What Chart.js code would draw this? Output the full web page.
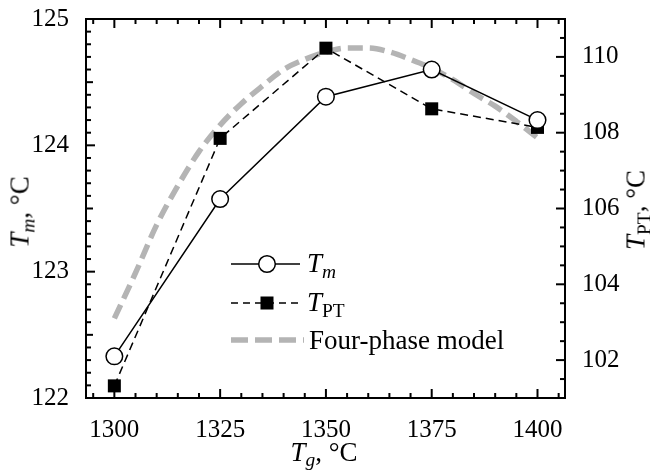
<!DOCTYPE html>
<html>
<head>
<meta charset="utf-8">
<script src="https://cdn.jsdelivr.net/npm/chart.js@4/dist/chart.umd.min.js"></script>
<style>
  body { margin: 0; background: #fff; }
  #wrap { position: relative; width: 650px; height: 471px; font-family: "Liberation Serif", "Times New Roman", serif; color: #000; }
  #c { position: absolute; left: 0; top: 0; }
  .lbl { position: absolute; white-space: nowrap; font-size: 27px; line-height: 1; }
  .lbl sub { font-size: 0.72em; vertical-align: -0.3em; line-height: 0; }
  .rot { transform: translate(-50%, -50%) rotate(-90deg); }
  .ctr { transform: translate(-50%, -50%); }
</style>
</head>
<body>
<div id="wrap">
  <canvas id="c" width="650" height="471"></canvas>
  <div class="lbl rot" style="left:20px; top:212px;"><i>T</i><sub><i>m</i></sub>, °C</div>
  <div class="lbl rot" style="left:636px; top:210px;"><i>T</i><sub>PT</sub>, °C</div>
  <div class="lbl ctr" style="left:324px; top:452px;"><i>T</i><sub><i>g</i></sub>, °C</div>
  <div class="lbl" style="left:307px; top:250px;"><i>T</i><sub><i>m</i></sub></div>
  <div class="lbl" style="left:307px; top:289px;"><i>T</i><sub>PT</sub></div>
  <div class="lbl" style="left:309px; top:327px;">Four-phase model</div>
</div>
<script>
// measured points
const tg = [1300, 1325, 1350, 1375, 1400];
const tm = [122.33, 123.575, 124.385, 124.6, 124.2];
const tpt = [101.32, 107.85, 110.23, 108.63, 108.14];

// four-phase model curve (left axis)
const modelTg = [1300, 1305, 1310, 1315, 1320, 1325, 1330, 1335, 1340, 1345, 1350,
                 1355, 1360, 1365, 1370, 1375, 1380, 1385, 1390, 1395, 1400];
const modelTm = [122.63, 122.99, 123.37, 123.68, 123.95, 124.16, 124.33, 124.47, 124.60, 124.68, 124.74,
                 124.77, 124.77, 124.74, 124.68, 124.61, 124.52, 124.41, 124.31, 124.19, 124.06];

const xTicks = [1300, 1325, 1350, 1375, 1400];
const yTicks = [122, 123, 124, 125];
const y2Ticks = [102, 104, 106, 108, 110];

const xMin = 1293.3, xMax = 1406.5;
const yMin = 122, yMax = 125;
const y2Min = 101, y2Max = 111;

const toXY = (xs, ys) => xs.map((x, i) => ({x: x, y: ys[i]}));
const gray = '#b4b4b4';
const tickFont = { family: '"Liberation Serif", serif', size: 25 };

const frameTicks = {
    id: 'frameTicks',
    afterDraw(chart) {
        const {ctx, chartArea: a, scales} = chart;
        ctx.save();
        ctx.setLineDash([]);
        ctx.strokeStyle = '#000';
        ctx.lineWidth = 2;
        const line = (x1, y1, x2, y2) => {
            ctx.beginPath();
            ctx.moveTo(x1, y1);
            ctx.lineTo(x2, y2);
            ctx.stroke();
        };
        // x ticks, bottom and top
        for (let i = 0; i <= 22; i++) {
            const v = 1295 + i * 5;
            const px = scales.x.getPixelForValue(v);
            const len = v % 25 === 0 ? 9 : 5;
            line(px, a.bottom, px, a.bottom - len);
            line(px, a.top, px, a.top + len);
        }
        // left ticks
        for (let i = 0; i <= 30; i++) {
            const py = scales.y.getPixelForValue(yMin + i * 0.1);
            const len = i % 10 === 0 ? 9 : (i % 5 === 0 ? 7 : 5);
            line(a.left, py, a.left + len, py);
        }
        // right ticks
        for (let i = 0; i <= 20; i++) {
            const py = scales.y2.getPixelForValue(y2Min + i * 0.5);
            const len = (i % 4 === 2) ? 9 : 5;
            line(a.right, py, a.right - len, py);
        }
        // frame
        ctx.strokeRect(a.left, a.top, a.right - a.left, a.bottom - a.top);

        // legend samples
        const lx1 = 231, lx2 = 300, mx = 267;
        ctx.lineWidth = 1.5;
        line(lx1, 264, lx2, 264);
        ctx.beginPath();
        ctx.arc(mx, 264, 8.3, 0, Math.PI * 2);
        ctx.fillStyle = '#fff';
        ctx.fill();
        ctx.stroke();

        ctx.setLineDash([7, 5]);
        line(lx1, 303, lx2, 303);
        ctx.setLineDash([]);
        ctx.fillStyle = '#000';
        ctx.fillRect(mx - 6.5, 303 - 6.5, 13, 13);

        ctx.strokeStyle = gray;
        ctx.lineWidth = 5.5;
        ctx.setLineDash([17, 7]);
        line(lx1, 340, lx2 + 4, 340);
        ctx.restore();
    }
};

const fixWidth = (size) => (scale) => {
    scale.width = size;
    scale.paddingTop = 0;
    scale.paddingBottom = 0;
};
const fixHeight = (size) => (scale) => {
    scale.height = size;
    scale.paddingLeft = 0;
    scale.paddingRight = 0;
};
const plain = (v) => String(v);

new Chart(document.getElementById('c'), {
    type: 'line',
    data: {
        datasets: [{
            label: 'Tm',
            data: toXY(tg, tm),
            yAxisID: 'y',
            borderColor: '#000',
            borderWidth: 1.5,
            pointStyle: 'circle',
            pointRadius: 8.3,
            pointBorderWidth: 1.5,
            pointBackgroundColor: '#fff',
            pointBorderColor: '#000',
            tension: 0
        }, {
            label: 'TPT',
            data: toXY(tg, tpt),
            yAxisID: 'y2',
            borderColor: '#000',
            borderWidth: 1.5,
            borderDash: [8, 5],
            pointStyle: 'rect',
            pointRadius: 9.2,
            pointBorderWidth: 0,
            pointBackgroundColor: '#000',
            tension: 0
        }, {
            label: 'Four-phase model',
            data: toXY(modelTg, modelTm),
            yAxisID: 'y',
            borderColor: gray,
            borderWidth: 5.5,
            borderDash: [15, 7],
            pointRadius: 0,
            cubicInterpolationMode: 'monotone'
        }]
    },
    options: {
        responsive: false,
        devicePixelRatio: 1,
        animation: false,
        clip: false,
        layout: { padding: { top: 19, left: 0, right: 0, bottom: 0 } },
        plugins: { legend: { display: false }, tooltip: { enabled: false } },
        scales: {
            x: {
                type: 'linear',
                min: xMin, max: xMax,
                afterBuildTicks: (s) => { s.ticks = xTicks.map(v => ({value: v})); },
                afterFit: fixHeight(73),
                grid: { display: false },
                border: { display: false },
                ticks: { color: '#000', padding: 9, maxRotation: 0, font: tickFont, callback: plain }
            },
            y: {
                position: 'left',
                min: yMin, max: yMax,
                afterBuildTicks: (s) => { s.ticks = yTicks.map(v => ({value: v})); },
                afterFit: fixWidth(86),
                grid: { display: false },
                border: { display: false },
                ticks: { color: '#000', padding: 9, font: tickFont, callback: plain }
            },
            y2: {
                position: 'right',
                min: y2Min, max: y2Max,
                afterBuildTicks: (s) => { s.ticks = y2Ticks.map(v => ({value: v})); },
                afterFit: fixWidth(85),
                grid: { display: false },
                border: { display: false },
                ticks: { color: '#000', padding: 9, font: tickFont, callback: plain }
            }
        }
    },
    plugins: [frameTicks]
});
</script>
</body>
</html>
